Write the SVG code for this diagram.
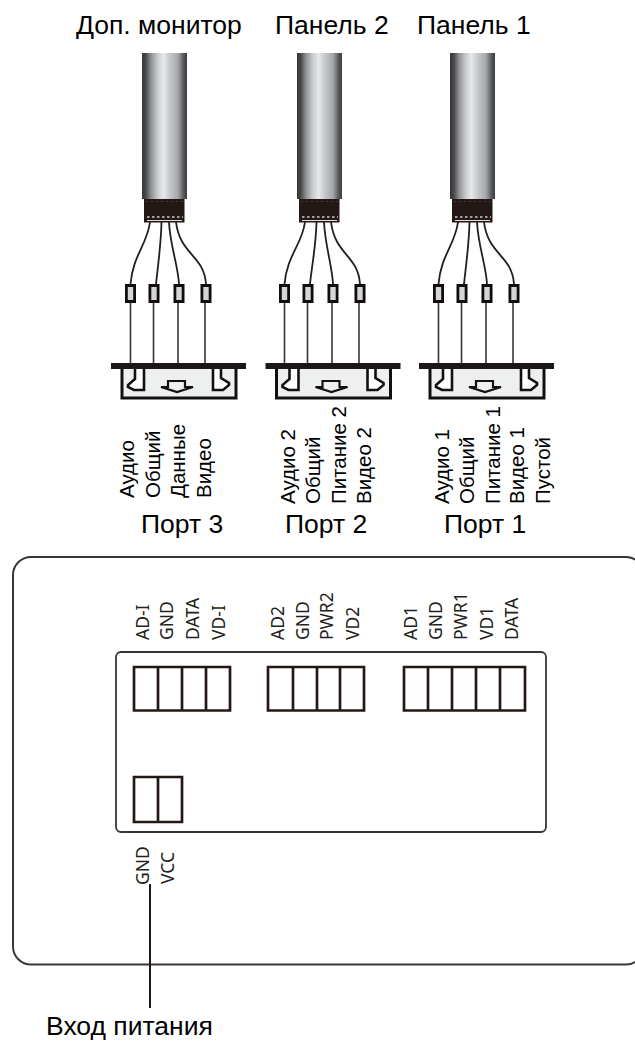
<svg xmlns="http://www.w3.org/2000/svg" width="635" height="1041" viewBox="0 0 635 1041">
<style>
.h{font:26.5px "Liberation Sans",Arial,sans-serif;fill:#000}
.r{font:20.5px "Liberation Sans",Arial,sans-serif;fill:#000}
.t{font:17.5px "Noto Sans",sans-serif;fill:#231f20}
.w{fill:none;stroke:#231f20;stroke-width:1.800}
.l{fill:none;stroke:#3a3533;stroke-width:1.600}
.c{fill:none;stroke:#231815;stroke-width:2.700}
</style>
<defs>
<linearGradient id="cab"><stop offset="0" stop-color="#34363a"/><stop offset=".08" stop-color="#45474a"/><stop offset=".2" stop-color="#8f9091"/><stop offset=".35" stop-color="#c9ccce"/><stop offset=".48" stop-color="#e6e8e9"/><stop offset=".62" stop-color="#c4c8ca"/><stop offset=".8" stop-color="#a5a8aa"/><stop offset=".92" stop-color="#58595b"/><stop offset="1" stop-color="#3b3c3f"/></linearGradient>
<g id="res"><rect x="-5.500" y="284" width="11" height="19" fill="#120d0c"/><rect x="-2.700" y="287" width="5.400" height="13" fill="#d4d6d6"/></g>
<g id="plug">
<rect x="142" y="53" width="45" height="146" fill="url(#cab)"/>
<rect x="144" y="199" width="40.500" height="23.500" fill="#231815"/>
<path d="M146 201.500H183" stroke="#5a5250" stroke-width=".6" stroke-dasharray="2 3"/>
<path d="M147 217H183" stroke="#ccc" stroke-width="1.500" stroke-dasharray="2.500 2.500"/>
<path d="M147 220.500H182" stroke="#ddd" stroke-width="1"/>
</g>
<g id="conn">
<path d="M122 368V398H236V368" fill="#eef0f0" stroke="#111" stroke-width="3"/>
<rect x="111" y="363" width="135" height="6" fill="#1a1716"/>
<path d="M135 369V379L128 385V387L134 390H144V369" fill="#fff" stroke="#111" stroke-width="2.600"/>
<path d="M221 369V378L229 383V385L223 390H213V369" fill="#fff" stroke="#111" stroke-width="2.600"/>
<path d="M168 387V381H185V387H193L177 392 161 387Z" fill="#eef0f0" stroke="#111" stroke-width="2.200"/>
</g>
</defs>
<g id="labels-top">
<text class="h" x="76" y="34">Доп. монитор</text>
<text class="h" x="275" y="34">Панель 2</text>
<text class="h" x="417" y="34">Панель 1</text>
</g>
<g id="port-3">
<use href="#plug"/><use href="#conn"/>
<g class="w"><path d="M150 222C147 245 133 255 130.500 284"/><path d="M161.500 222C161 245 158 265 156 284"/><path d="M169 222C170 245 178 265 179 284"/><path d="M176 222C180 255 204 255 206 284"/></g>
<use href="#res" x="130.500"/><use href="#res" x="154"/><use href="#res" x="179"/><use href="#res" x="206"/>
<path class="l" d="M130.500 303V363M153.500 303V363M178 303V363M205 303V363"/>
<g class="r"><text transform="translate(134 498) rotate(-90)">Аудио</text><text transform="translate(160 498) rotate(-90)">Общий</text><text transform="translate(185 498) rotate(-90)">Данные</text><text transform="translate(211 498) rotate(-90)">Видео</text></g>
<text class="h" x="141" y="533">Порт 3</text>
</g>
<g id="port-2">
<use href="#plug" x="155"/><use href="#conn" x="154.500"/>
<g class="w" transform="translate(154 0)"><path d="M151 222C148 245 133 255 130.500 284"/><path d="M162.500 222C162 245 158 265 156 284"/><path d="M170 222C171 245 178 265 179 284"/><path d="M177 222C181 255 204 255 206 284"/></g>
<use href="#res" x="284.500"/><use href="#res" x="308"/><use href="#res" x="333"/><use href="#res" x="360"/>
<path class="l" d="M284.500 303V363M307.500 303V363M332 303V363M359 303V363"/>
<g class="r"><text transform="translate(295 504) rotate(-90)">Аудио 2</text><text transform="translate(320 504) rotate(-90)">Общий</text><text transform="translate(346 504) rotate(-90)">Питание 2</text><text transform="translate(371 504) rotate(-90)">Видео 2</text></g>
<text class="h" x="285" y="533">Порт 2</text>
</g>
<g id="port-1">
<use href="#plug" x="308"/><use href="#conn" x="308"/>
<g class="w" transform="translate(308 0)"><path d="M150 222C147 245 133 255 130.500 284"/><path d="M161.500 222C161 245 158 265 156 284"/><path d="M169 222C170 245 178 265 179 284"/><path d="M176 222C180 255 204 255 206 284"/></g>
<use href="#res" x="438.500"/><use href="#res" x="462"/><use href="#res" x="487"/><use href="#res" x="514"/>
<path class="l" d="M438.500 303V363M461.500 303V363M486 303V363M513 303V363"/>
<g class="r"><text transform="translate(449 504) rotate(-90)">Аудио 1</text><text transform="translate(474 504) rotate(-90)">Общий</text><text transform="translate(500 504) rotate(-90)">Питание 1</text><text transform="translate(524 504) rotate(-90)">Видео 1</text><text transform="translate(550 504) rotate(-90)">Пустой</text></g>
<text class="h" x="444" y="533">Порт 1</text>
</g>
<g id="controller">
<rect x="13" y="557" width="631" height="407.500" rx="18" fill="#fff" stroke="#3a3533" stroke-width="2"/>
<rect x="116" y="652" width="430" height="180" rx="5" fill="#fff" stroke="#3a3533" stroke-width="1.800"/>
<path class="c" d="M134 667H230V710.500H134ZM158 667V710.500M182 667V710.500M206 667V710.500"/>
<path class="c" d="M268 667H364V710.500H268ZM293 667V710.500M317 667V710.500M340 667V710.500"/>
<path class="c" d="M404 667H525V710.500H404ZM428 667V710.500M452 667V710.500M476 667V710.500M500 667V710.500"/>
<path class="c" d="M134 777H182V822H134ZM158 777V822"/>
<g class="t">
<text transform="translate(149 640) rotate(-90)">AD-I</text><text transform="translate(173 640) rotate(-90)">GND</text><text transform="translate(199 640) rotate(-90)">DATA</text><text transform="translate(225 640) rotate(-90)">VD-I</text>
<text transform="translate(284 640) rotate(-90)">AD2</text><text transform="translate(309 640) rotate(-90)">GND</text><text transform="translate(333 640) rotate(-90)">PWR2</text><text transform="translate(359 640) rotate(-90)">VD2</text>
<text transform="translate(417 640) rotate(-90)">AD1</text><text transform="translate(442 640) rotate(-90)">GND</text><text transform="translate(467 640) rotate(-90)">PWR1</text><text transform="translate(493 640) rotate(-90)">VD1</text><text transform="translate(518 640) rotate(-90)">DATA</text>
<text transform="translate(149 885) rotate(-90)">GND</text><text transform="translate(174 884) rotate(-90)">VCC</text>
</g>
</g>
<g id="connectors"><path d="M150 884V1008" fill="none" stroke="#231815" stroke-width="2"/></g>
<text id="power-input" class="h" x="46" y="1035">Вход питания</text>
</svg>
